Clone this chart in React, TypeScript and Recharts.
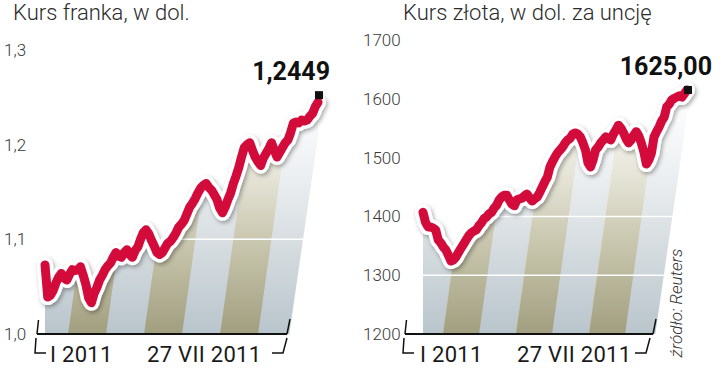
import { ComposedChart, Line, Area, XAxis, YAxis, ReferenceLine } from "recharts";

// kurs franka (USD za 1 CHF), odczyt z wykresu
const frankValues = [
  1.073, 1.039, 1.041, 1.046, 1.054, 1.06, 1.064, 1.059, 1.057, 1.063, 1.068, 1.067, 1.068, 1.071,
  1.062, 1.052, 1.038, 1.033, 1.043, 1.049, 1.057, 1.062, 1.068, 1.072, 1.075, 1.081, 1.086, 1.082,
  1.081, 1.086, 1.089, 1.084, 1.081, 1.088, 1.092, 1.1, 1.107, 1.11, 1.106, 1.099, 1.093, 1.086,
  1.084, 1.086, 1.091, 1.096, 1.098, 1.102, 1.107, 1.113, 1.116, 1.12, 1.127, 1.134, 1.138, 1.143,
  1.149, 1.154, 1.157, 1.159, 1.155, 1.152, 1.147, 1.142, 1.133, 1.128, 1.134, 1.142, 1.149, 1.159,
  1.167, 1.176, 1.187, 1.197, 1.2, 1.202, 1.194, 1.187, 1.182, 1.178, 1.186, 1.191, 1.196, 1.202,
  1.194, 1.187, 1.192, 1.197, 1.202, 1.205, 1.213, 1.223, 1.224, 1.223, 1.226, 1.225, 1.226, 1.23,
  1.233, 1.24, 1.2449,
];

// kurs złota (USD za uncję)
const goldValues = [
  1407, 1390, 1382, 1382, 1380, 1377, 1360, 1355, 1348, 1343, 1334, 1324, 1326, 1331, 1339, 1346,
  1353, 1360, 1367, 1372, 1375, 1377, 1384, 1389, 1396, 1399, 1404, 1407, 1414, 1419, 1428, 1433,
  1436, 1436, 1428, 1421, 1418, 1428, 1430, 1431, 1435, 1438, 1431, 1426, 1430, 1433, 1441, 1450,
  1459, 1467, 1484, 1493, 1501, 1508, 1513, 1518, 1525, 1530, 1533, 1540, 1542, 1540, 1535, 1525,
  1513, 1491, 1484, 1496, 1513, 1518, 1525, 1530, 1535, 1532, 1530, 1540, 1547, 1555, 1550, 1542,
  1532, 1525, 1530, 1538, 1544, 1537, 1525, 1510, 1489, 1496, 1508, 1535, 1544, 1552, 1562, 1569,
  1586, 1591, 1598, 1601, 1603, 1605, 1603, 1609, 1615,
];

const frankTicks = [1.0, 1.1, 1.2, 1.3];
const frankTickLabels = ["1,0", "1,1", "1,2", "1,3"];
const frankGrid = [1.1];
const goldTicks = [1200, 1300, 1400, 1500, 1600, 1700];
const goldTickLabels = ["1200", "1300", "1400", "1500", "1600", "1700"];
const goldGrid = [1300, 1400];
const periodLabels = ["I 2011", "27 VII 2011"];

const RED = "#d20b3b";
const FONT = "Roboto, 'Noto Sans', sans-serif";

function Defs() {
  return (
    <svg width={0} height={0} style={{ position: "absolute" }}>
      <defs>
        <linearGradient id="fadeLight" gradientUnits="userSpaceOnUse" x1="0" y1="334" x2="0" y2="70">
          <stop offset="0" stopColor="#b9c5cc" />
          <stop offset="0.3" stopColor="#d3dade" />
          <stop offset="0.6" stopColor="#eceff1" />
          <stop offset="0.9" stopColor="#ffffff" />
        </linearGradient>
        <linearGradient id="fadeOlive" gradientUnits="userSpaceOnUse" x1="0" y1="334" x2="0" y2="70">
          <stop offset="0" stopColor="#a29f80" />
          <stop offset="0.3" stopColor="#c3c1a7" />
          <stop offset="0.6" stopColor="#e6e4d7" />
          <stop offset="0.9" stopColor="#ffffff" />
        </linearGradient>
        <pattern id="stripesL" patternUnits="userSpaceOnUse" x={1} y={0} width={76} height={373} patternTransform="skewX(-8)">
          <rect x={0} y={0} width={38} height={373} fill="url(#fadeLight)" />
          <rect x={38} y={0} width={38} height={373} fill="url(#fadeOlive)" />
        </pattern>
        <pattern id="stripesR" patternUnits="userSpaceOnUse" x={20} y={0} width={73} height={373} patternTransform="skewX(-8)">
          <rect x={0} y={0} width={36.5} height={373} fill="url(#fadeLight)" />
          <rect x={36.5} y={0} width={36.5} height={373} fill="url(#fadeOlive)" />
        </pattern>
        <clipPath id="edgeL" clipPathUnits="userSpaceOnUse">
          <polygon points="0,0 324,0 324,95 289,336 0,336" />
        </clipPath>
        <clipPath id="edgeR" clipPathUnits="userSpaceOnUse">
          <polygon points="0,0 330,0 330,95 295,336 0,336" />
        </clipPath>
        <filter id="halo" x="-10%" y="-10%" width="120%" height="130%">
          <feDropShadow dx="1.5" dy="2" stdDeviation="2.2" floodColor="#000" floodOpacity="0.35" />
        </filter>
      </defs>
    </svg>
  );
}

interface PanelProps {
  values: number[];
  ticks: number[];
  tickLabels: string[];
  grid: number[];
  domain: [number, number];
  title: string;
  titleX: number;
  lastLabel: string;
  labelDx: number;
  labelDy: number;
  markerDy: number;
  stripes: string;
  edge: string;
  left: number;
  margin: { top: number; right: number; bottom: number; left: number };
  yWidth: number;
  tickX: number;
  deco: {
    base: [number, number];
    labelsX: [number, number];
    bracketL: number;
    bracketR: number;
  };
  source?: boolean;
}

function Panel(p: PanelProps) {
  const data = p.values.map((v, i) => ({ i, v }));
  const last = data.length - 1;
  const [b0, b1] = p.deco.base;
  return (
    <div style={{ position: "absolute", left: p.left, top: 0, width: 360, height: 373 }}>
      <div
        style={{
          position: "absolute",
          left: p.titleX,
          top: 0,
          fontFamily: FONT,
          fontWeight: 300,
          fontSize: 22,
          color: "#2b2b2b",
          whiteSpace: "nowrap",
        }}
      >
        {p.title}
      </div>
      <ComposedChart width={360} height={373} data={data} margin={p.margin}>
        <XAxis dataKey="i" type="category" hide />
        <YAxis
          domain={p.domain}
          ticks={p.ticks}
          width={p.yWidth}
          axisLine={false}
          tickLine={false}
          interval={0}
          tick={({ y, index }: any) => (
            <text x={p.tickX} y={y} dy={6} fontFamily={FONT} fontWeight={300} fontSize={17} fill="#3a3a3a">
              {p.tickLabels[index]}
            </text>
          )}
        />
        <Area
          dataKey="v"
          fill={`url(#${p.stripes})`}
          stroke="none"
          fillOpacity={1}
          clipPath={`url(#${p.edge})`}
          isAnimationActive={false}
        />
        {p.grid.map((t) => (
          <ReferenceLine key={t} y={t} stroke="#ffffff" strokeWidth={1.5} />
        ))}
        <Line
          dataKey="v"
          stroke="#ffffff"
          strokeWidth={16}
          strokeLinejoin="round"
          strokeLinecap="round"
          dot={false}
          filter="url(#halo)"
          isAnimationActive={false}
        />
        <Line
          dataKey="v"
          stroke={RED}
          strokeWidth={9}
          strokeLinejoin="round"
          strokeLinecap="round"
          isAnimationActive={false}
          dot={(d: any) =>
            d.index === last ? (
              <rect key="end" x={d.cx - 3} y={d.cy - 4 + p.markerDy} width={8} height={8} fill="#111" />
            ) : (
              <g key={d.index} />
            )
          }
          label={(l: any) =>
            l.index === last ? (
              <text
                key="lbl"
                x={l.x + p.labelDx}
                y={l.y + p.labelDy}
                textAnchor="end"
                fontFamily={FONT}
                fontWeight={700}
                fontSize={25}
                fill="#111"
              >
                {p.lastLabel}
              </text>
            ) : (
              <g key={l.index} />
            )
          }
        />
      </ComposedChart>
      <svg
        width={360}
        height={373}
        style={{ position: "absolute", left: 0, top: 0, pointerEvents: "none" }}
      >
        <g stroke="#111" fill="none">
          <line x1={b0} y1={334} x2={b1} y2={334} strokeWidth={2.2} />
          <line x1={b0 + 1.5} y1={320} x2={b0} y2={334} strokeWidth={1.5} />
          <line x1={b1 + 3} y1={319} x2={b1} y2={334} strokeWidth={1.5} />
          <polyline
            points={`${p.deco.bracketL + 1},338 ${p.deco.bracketL},353 ${p.deco.bracketL + 11},353`}
            strokeWidth={1.5}
          />
          <polyline
            points={`${p.deco.bracketR - 13},353 ${p.deco.bracketR - 2},353 ${p.deco.bracketR + 2},338`}
            strokeWidth={1.5}
          />
        </g>
        {periodLabels.map((t, k) => (
          <text
            key={t}
            x={p.deco.labelsX[k]}
            y={362}
            fontFamily={FONT}
            fontSize={22}
            letterSpacing={0.3}
            fill="#1a1a1a"
          >
            {t}
          </text>
        ))}
        {p.source && (
          <text
            x={317}
            y={303}
            transform="rotate(-90 317 303)"
            textAnchor="middle"
            dy={5}
            fontFamily={FONT}
            fontStyle="italic"
            fontWeight={300}
            fontSize={17}
            fill="#333"
          >
            źródło: Reuters
          </text>
        )}
      </svg>
    </div>
  );
}

export default function App() {
  return (
    <div style={{ position: "absolute", left: 0, top: 0, width: 720, height: 373, background: "#fff", overflow: "hidden" }}>
      <Defs />
      <Panel
        values={frankValues}
        ticks={frankTicks}
        tickLabels={frankTickLabels}
        grid={frankGrid}
        domain={[1.0, 1.3]}
        title="Kurs franka, w dol."
        titleX={13}
        lastLabel="1,2449"
        labelDx={12}
        labelDy={-22}
        markerDy={-7}
        stripes="stripesL"
        edge="edgeL"
        left={0}
        margin={{ top: 50, right: 42, bottom: 39, left: 0 }}
        yWidth={45}
        tickX={4}
        deco={{ base: [37, 287], labelsX: [50, 147], bracketL: 35, bracketR: 285 }}
      />
      <Panel
        values={goldValues}
        ticks={goldTicks}
        tickLabels={goldTickLabels}
        grid={goldGrid}
        domain={[1200, 1700]}
        title="Kurs złota, w dol. za uncję"
        titleX={43}
        lastLabel="1625,00"
        labelDx={25}
        labelDy={-15}
        markerDy={0}
        stripes="stripesR"
        edge="edgeR"
        left={360}
        margin={{ top: 40, right: 33, bottom: 39, left: 0 }}
        yWidth={63}
        tickX={3}
        deco={{ base: [45, 293], labelsX: [60, 157], bracketL: 43, bracketR: 288 }}
        source
      />
    </div>
  );
}
